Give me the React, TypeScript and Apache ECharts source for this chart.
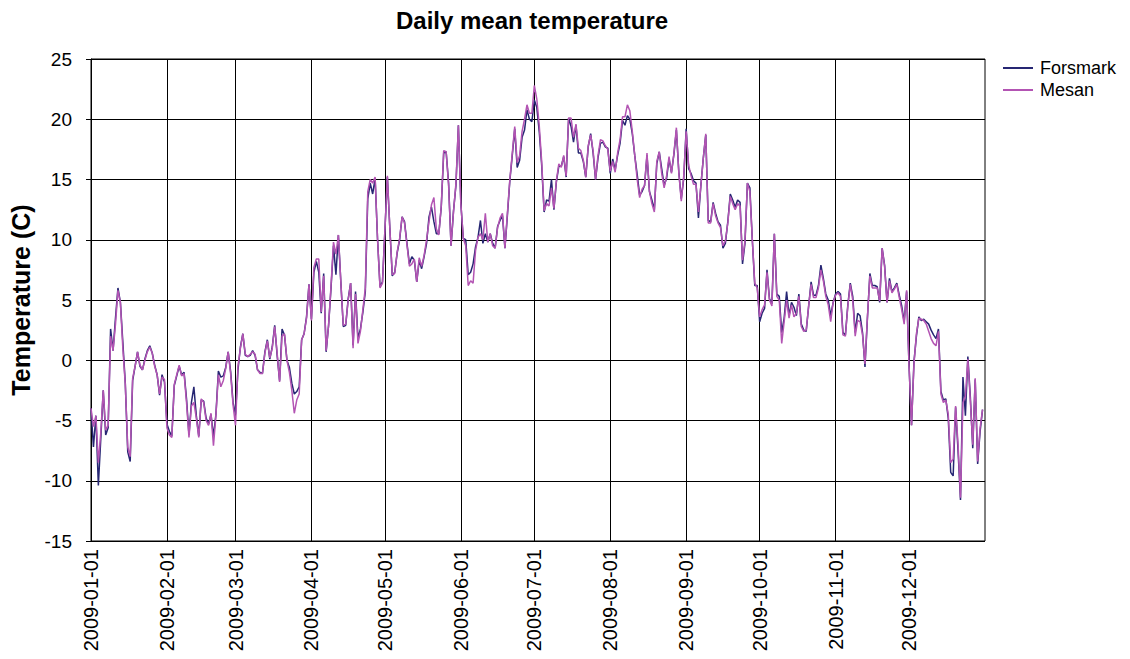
import React, { useEffect, useRef } from 'react';
import * as echarts from 'echarts';

// Daily mean temperature 2009 (°C), month by month
const forsmarkJan = [-4.0, -7.2, -4.6, -10.4, -6.5, -2.5, -6.2, -5.6, 2.6, 0.8, 3.5, 6.0, 4.8, 1.5, -1.9, -7.6, -8.4, -1.7, -0.5, 0.7, -0.5, -0.8, 0.1, 0.8, 1.2, 0.6, -0.4, -1.2, -2.9, -1.2, -1.8];
const forsmarkFeb = [-5.3, -5.9, -6.3, -2.1, -1.3, -0.5, -1.2, -1.0, -3.2, -6.2, -3.5, -2.2, -4.6, -6.3, -3.3, -3.4, -4.8, -5.3, -4.5, -6.3, -4.5, -0.9, -1.4, -1.3, -0.6, 0.7, -0.9, -3.5];
const forsmarkMar = [-4.5, -0.8, 1.1, 2.2, 0.4, 0.3, 0.4, 0.8, 0.4, -0.8, -1.0, -1.1, 0.7, 1.7, 0.1, 1.1, 2.9, 0.4, -1.7, 2.6, 2.1, 0.0, -0.6, -1.9, -2.8, -2.6, -2.2, 1.7, 2.2, 3.6, 6.3];
const forsmarkApr = [3.4, 7.3, 8.2, 7.3, 3.9, 7.2, 0.7, 2.9, 6.0, 9.5, 7.1, 10.4, 6.5, 2.8, 2.9, 5.1, 6.4, 1.25, 5.7, 1.8, 2.6, 4.0, 5.7, 13.4, 14.7, 13.8, 15.1, 10.0, 6.1, 6.5];
const forsmarkMay = [10.8, 15.2, 11.0, 7.0, 7.3, 8.9, 10.0, 11.9, 11.5, 9.7, 8.0, 8.6, 8.3, 6.5, 8.3, 7.6, 8.6, 9.7, 11.9, 12.7, 11.5, 10.5, 10.5, 12.7, 17.2, 17.3, 14.7, 9.5, 12.4, 14.5, 19.5];
const forsmarkJun = [13.0, 10.1, 10.0, 7.1, 7.3, 8.0, 9.4, 10.2, 11.6, 9.7, 10.5, 9.8, 10.5, 9.7, 9.3, 11.1, 11.6, 12.0, 9.3, 12.0, 14.9, 17.0, 19.2, 16.0, 16.6, 18.5, 19.1, 20.8, 20.0, 19.8];
const forsmarkJul = [21.6, 21.0, 19.0, 16.2, 12.3, 13.3, 13.2, 15.0, 12.5, 14.8, 16.1, 16.1, 16.9, 15.2, 20.1, 19.4, 18.1, 19.5, 17.2, 17.2, 16.5, 15.2, 17.7, 18.8, 17.2, 15.0, 16.8, 18.0, 18.1, 17.7, 17.6];
const forsmarkAug = [15.5, 16.7, 15.8, 17.0, 18.0, 19.9, 19.5, 20.3, 20.0, 18.8, 17.0, 15.4, 13.7, 14.0, 14.5, 17.0, 14.0, 13.3, 12.5, 16.3, 17.3, 15.9, 14.5, 15.1, 16.7, 15.6, 17.1, 19.1, 15.6, 13.4, 15.1];
const forsmarkSep = [19.2, 15.9, 15.5, 14.9, 14.7, 11.8, 14.5, 16.8, 18.7, 11.6, 11.5, 13.1, 12.2, 11.5, 11.2, 9.3, 9.7, 11.5, 13.8, 13.3, 12.7, 13.3, 13.1, 8.0, 9.7, 14.7, 14.3, 10.0, 6.2, 6.2];
const forsmarkOct = [3.2, 3.9, 4.3, 7.5, 5.1, 4.7, 10.5, 5.5, 5.3, 2.3, 3.5, 5.7, 3.7, 4.8, 4.4, 3.7, 5.5, 3.0, 2.5, 2.4, 4.5, 6.5, 5.4, 5.4, 6.2, 7.9, 6.8, 5.5, 5.0, 3.7, 4.8];
const forsmarkNov = [5.5, 5.7, 5.5, 2.3, 2.1, 4.6, 6.4, 5.3, 2.3, 3.9, 3.7, 2.3, -0.55, 3.5, 7.2, 6.2, 6.2, 6.1, 4.8, 9.3, 7.9, 4.8, 6.8, 5.7, 6.0, 6.4, 5.4, 4.5, 3.2, 5.7];
const forsmarkDec = [-0.5, -5.4, -0.1, 2.0, 3.6, 3.3, 3.4, 3.2, 3.0, 2.5, 2.1, 1.8, 2.6, -2.6, -3.3, -3.2, -4.8, -9.3, -9.6, -3.9, -7.5, -11.6, -1.4, -4.6, 0.3, -3.0, -7.3, -1.6, -8.6, -5.9, -4.1];

const mesanJan = [-4.0, -5.5, -4.6, -8.5, -6.0, -2.5, -5.8, -5.4, 2.0, 0.8, 3.0, 5.8, 4.8, 1.0, -2.0, -7.2, -8.0, -1.5, -0.5, 0.7, -0.4, -0.8, 0.0, 0.7, 1.1, 0.6, -0.5, -1.2, -2.8, -1.4, -1.6];
const mesanFeb = [-5.6, -6.2, -6.4, -2.0, -1.2, -0.4, -1.3, -1.1, -3.5, -6.4, -3.8, -3.5, -4.8, -6.4, -3.2, -3.5, -5.0, -5.4, -4.4, -7.1, -4.6, -1.2, -2.2, -1.7, -0.7, 0.7, -1.1, -3.7];
const mesanMar = [-5.4, -0.5, 1.0, 2.2, 0.5, 0.3, 0.5, 0.7, 0.5, -0.8, -1.1, -1.1, 0.6, 1.6, 0.2, 1.0, 2.8, 0.6, -1.8, 2.0, 2.2, 0.0, -1.0, -2.5, -4.4, -3.3, -2.8, 1.7, 2.2, 3.5, 6.3];
const mesanApr = [3.3, 7.7, 8.4, 8.4, 4.0, 7.0, 0.8, 2.9, 6.2, 9.8, 8.8, 10.4, 6.5, 2.9, 3.0, 5.0, 6.4, 1.0, 5.5, 1.4, 2.4, 4.2, 6.0, 14.0, 15.0, 14.7, 15.2, 10.0, 6.0, 6.4];
const mesanMay = [10.8, 15.3, 11.0, 7.1, 7.2, 9.0, 10.1, 11.9, 11.4, 9.6, 7.8, 8.0, 8.4, 6.5, 8.5, 7.8, 8.7, 10.0, 11.5, 12.9, 13.5, 10.9, 10.4, 12.8, 17.4, 17.3, 14.5, 9.5, 12.3, 14.7, 19.5];
const mesanJun = [13.0, 10.1, 9.5, 6.2, 6.6, 6.4, 9.1, 10.2, 10.5, 10.0, 12.2, 9.8, 10.5, 9.5, 9.3, 11.0, 11.8, 12.2, 9.3, 12.2, 15.0, 17.2, 19.4, 16.4, 17.0, 19.0, 20.0, 21.2, 20.5, 20.5];
const mesanJul = [22.8, 21.7, 19.5, 16.5, 12.4, 13.0, 12.8, 14.3, 12.6, 14.9, 16.3, 16.0, 17.0, 15.3, 20.1, 20.1, 18.5, 19.6, 17.6, 17.4, 16.6, 15.2, 17.8, 18.7, 17.4, 15.0, 17.0, 18.3, 18.2, 17.8, 17.5];
const mesanAug = [15.7, 16.5, 15.6, 17.2, 18.3, 20.2, 20.2, 21.2, 20.7, 19.0, 17.0, 15.0, 13.5, 14.2, 14.5, 17.2, 14.0, 13.0, 12.3, 16.5, 17.3, 15.5, 14.3, 15.3, 16.9, 15.5, 17.2, 19.3, 15.5, 13.2, 15.3];
const mesanSep = [19.0, 16.2, 15.3, 14.6, 14.6, 12.3, 14.5, 16.8, 18.8, 11.4, 11.4, 13.0, 12.0, 11.4, 11.0, 9.5, 9.9, 11.4, 13.6, 13.0, 12.5, 13.0, 12.8, 8.3, 9.9, 14.7, 14.0, 10.0, 6.4, 6.0];
const mesanOct = [3.6, 4.2, 4.6, 7.3, 5.0, 4.5, 10.5, 5.3, 5.0, 1.4, 3.2, 5.0, 3.5, 4.6, 3.6, 3.9, 5.3, 2.8, 2.4, 2.5, 4.5, 6.3, 5.2, 5.2, 6.0, 7.5, 6.6, 5.3, 4.6, 3.2, 4.8];
const mesanNov = [5.4, 5.6, 5.3, 2.1, 2.0, 4.5, 6.3, 5.0, 2.0, 3.3, 3.2, 2.1, -0.3, 3.6, 7.0, 6.0, 6.0, 6.0, 4.9, 9.3, 7.8, 4.8, 6.6, 5.6, 5.9, 6.3, 5.2, 4.2, 3.0, 5.8];
const mesanDec = [-0.5, -5.4, -0.3, 2.2, 3.5, 3.4, 3.3, 3.0, 2.4, 1.8, 1.4, 1.2, 2.4, -2.8, -3.5, -3.3, -4.5, -8.5, -8.2, -3.8, -7.0, -11.4, -3.5, -3.0, 0.1, -3.3, -7.0, -1.5, -8.4, -5.6, -4.1];

const forsmark = [
  ...forsmarkJan, ...forsmarkFeb, ...forsmarkMar, ...forsmarkApr, ...forsmarkMay, ...forsmarkJun,
  ...forsmarkJul, ...forsmarkAug, ...forsmarkSep, ...forsmarkOct, ...forsmarkNov, ...forsmarkDec,
];
const mesan = [
  ...mesanJan, ...mesanFeb, ...mesanMar, ...mesanApr, ...mesanMay, ...mesanJun,
  ...mesanJul, ...mesanAug, ...mesanSep, ...mesanOct, ...mesanNov, ...mesanDec,
];

// Category labels: every day of 2009 plus 2010-01-01 as the right edge
const dates: string[] = [];
for (let i = 0; i <= 365; i++) {
  dates.push(new Date(Date.UTC(2009, 0, 1 + i)).toISOString().slice(0, 10));
}

const FONT = 'Arial, "Liberation Sans", Helvetica, sans-serif';
const FORSMARK_COLOR = '#262673';
const MESAN_COLOR = '#b354b3';

const isMonthStart = (_: number, v: string) => v.endsWith('-01') && v.startsWith('2009');

export default function App() {
  const ref = useRef<HTMLDivElement>(null);
  useEffect(() => {
    if (!ref.current) return;
    const chart = echarts.init(ref.current, undefined, { renderer: 'svg' });
    chart.setOption({
      animation: false,
      backgroundColor: '#ffffff',
      title: {
        text: 'Daily mean temperature',
        left: 527,
        top: 3,
        textAlign: 'center',
        textStyle: { fontFamily: FONT, fontSize: 24, fontWeight: 'bold', color: '#000' },
      },
      legend: {
        orient: 'vertical',
        left: 1003,
        top: 59,
        padding: 0,
        icon: 'rect',
        itemWidth: 30,
        itemHeight: 2,
        itemGap: 4,
        textStyle: { fontFamily: FONT, fontSize: 18, color: '#000', padding: [0, 0, 0, 2] },
        data: ['Forsmark', 'Mesan'],
      },
      grid: {
        left: 91,
        right: 145,
        top: 59,
        bottom: 118,
        show: true,
        borderColor: '#000',
        borderWidth: 1,
      },
      xAxis: {
        type: 'category',
        data: dates,
        boundaryGap: false,
        axisLine: { show: true, lineStyle: { color: '#000', width: 1 } },
        axisTick: { show: true, interval: isMonthStart, length: 5, lineStyle: { color: '#000' } },
        axisLabel: {
          interval: isMonthStart,
          rotate: 90,
          margin: 8,
          fontFamily: FONT,
          fontSize: 20,
          color: '#000',
        },
        splitLine: { show: true, interval: isMonthStart, lineStyle: { color: '#000', width: 1 } },
      },
      yAxis: {
        type: 'value',
        min: -15,
        max: 25,
        interval: 5,
        name: 'Temperature (C)',
        nameLocation: 'middle',
        nameGap: 54,
        nameRotate: 90,
        nameTextStyle: { fontFamily: FONT, fontSize: 25, fontWeight: 'bold', color: '#000' },
        axisLine: { show: true, lineStyle: { color: '#000', width: 1 } },
        axisTick: { show: true, length: 5, lineStyle: { color: '#000' } },
        axisLabel: { fontFamily: FONT, fontSize: 19, color: '#000', margin: 19 },
        splitLine: { show: true, lineStyle: { color: '#000', width: 1 } },
      },
      series: [
        {
          name: 'Forsmark',
          type: 'line',
          data: [...forsmark, null],
          symbol: 'none',
          color: FORSMARK_COLOR,
          lineStyle: { color: FORSMARK_COLOR, width: 1.5 },
        },
        {
          name: 'Mesan',
          type: 'line',
          data: [...mesan, null],
          symbol: 'none',
          color: MESAN_COLOR,
          lineStyle: { color: MESAN_COLOR, width: 1.5 },
        },
      ],
    });
    return () => chart.dispose();
  }, []);
  return (
    <div
      ref={ref}
      style={{ position: 'absolute', left: 0, top: 0, width: 1130, height: 659, background: '#fff' }}
    />
  );
}
